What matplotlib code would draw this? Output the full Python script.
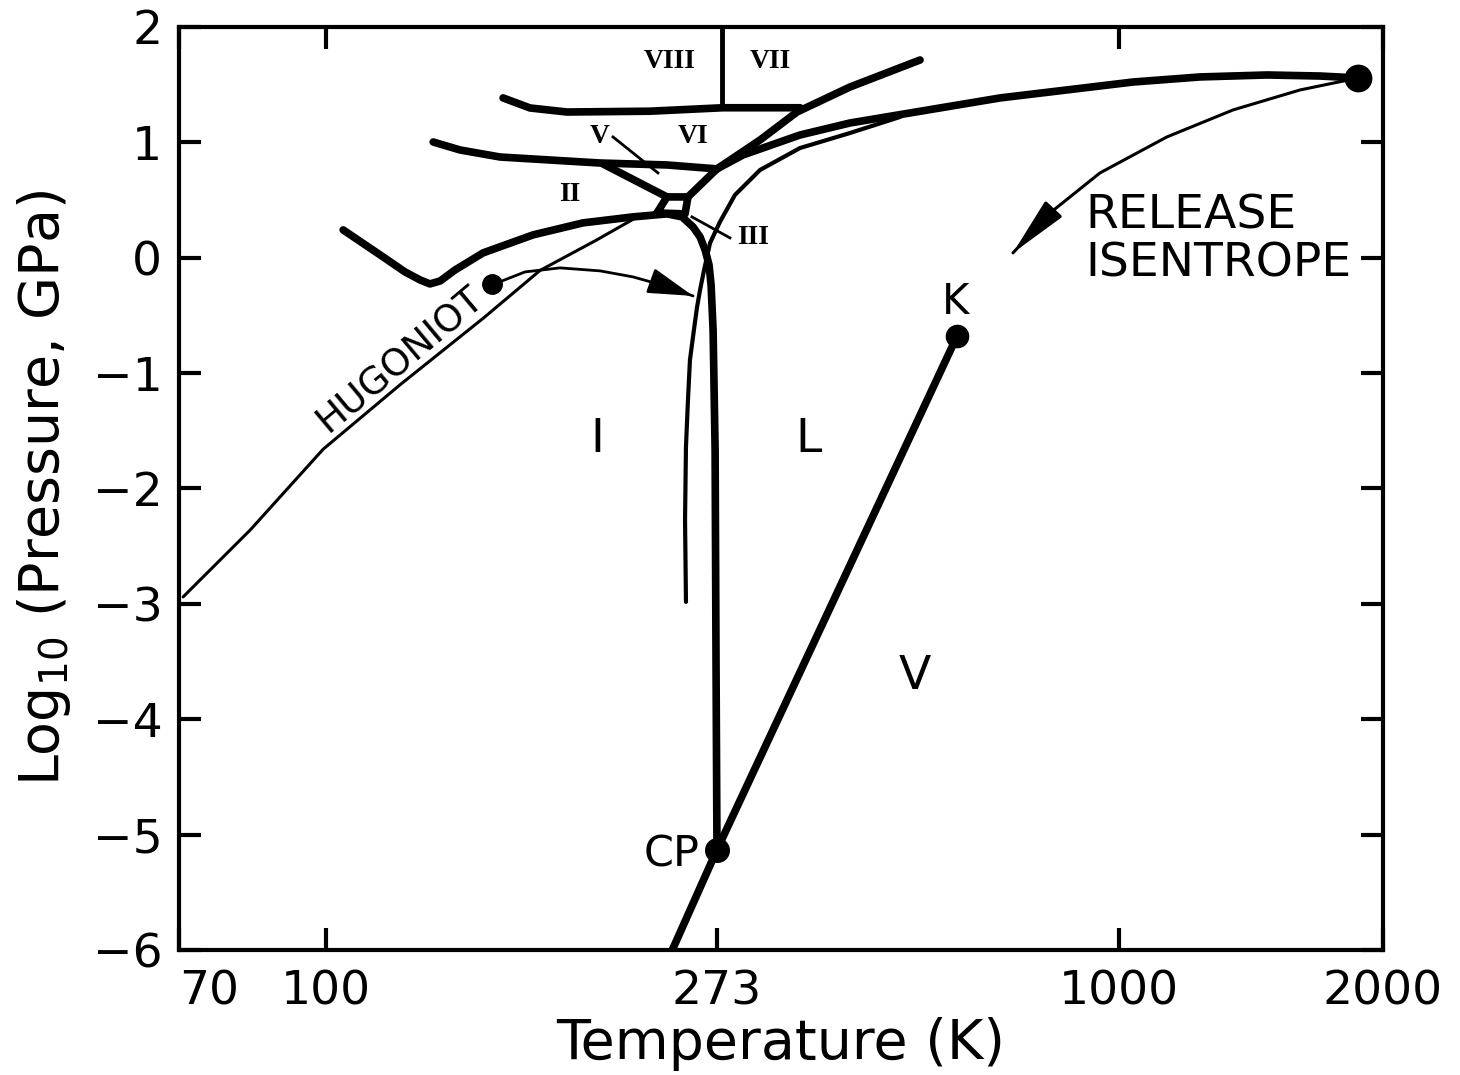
import numpy as np
import matplotlib
matplotlib.use("Agg")
import matplotlib.pyplot as plt
from matplotlib.ticker import FixedLocator, NullLocator

plt.rcParams["font.family"] = ["DejaVu Sans"]
plt.rcParams["mathtext.default"] = "regular"

# ---------------- axes / ticks ----------------
T_TICKS = [70, 100, 273, 1000, 2000]
T_TICK_LABELS = ["70", "100", "273", "1000", "2000"]
# the original temperature axis is a hand-drawn (non-uniform) log axis:
# relative position of each labelled temperature along the axis
T_TICK_POS = [0.0, 0.1221, 0.4468, 0.7807, 1.0]
LOGP_TICKS = [2, 1, 0, -1, -2, -3, -4, -5, -6]

# ---------------- curves (T in K, log10 P in GPa) ----------------
hug_T = [70.7, 83.2, 99.3, 121.0, 150.0, 173.3, 200.0, 222.0]
hug_P = [-2.94, -2.36, -1.66, -1.10, -0.52, -0.11, 0.15, 0.35]
hug_dot = (153.2, -0.227)

hugarrow_T = [155.2, 166.7, 182.4, 202.2, 220.0, 238.9, 256.7]
hugarrow_P = [-0.218, -0.123, -0.088, -0.114, -0.166, -0.244, -0.331]

# VIII / VII lower boundary
l8_T = [157.6, 168.9, 185.7, 229.8, 278.3, 357.0]
l8_P = [1.385, 1.298, 1.263, 1.27, 1.30, 1.30]
# VIII | VII vertical boundary
v8_T = [277.4, 277.4]
v8_P = [2.0, 1.30]

# II-V-VI upper boundary
l6_T = [131.7, 141.1, 156.4, 177.8, 202.2, 240.1, 273.0]
l6_P = [1.003, 0.934, 0.873, 0.847, 0.821, 0.804, 0.770]

# VI/VII boundary up to VII
l7_T = [253.4, 273.0, 313.8, 353.5, 419.5, 526.0]
l7_P = [0.527, 0.770, 1.021, 1.263, 1.48, 1.714]

# melting line to the shock state (big dot)
lm_T = [273.0, 297.0, 357.0, 419.5, 681.0, 1037.5, 1237.4, 1475.0, 1695.0, 1873.0]
lm_P = [0.770, 0.891, 1.064, 1.168, 1.385, 1.523, 1.567, 1.584, 1.575, 1.558]
shock_dot = (1873.0, 1.558)

# V/II boundary
l5_T = [203.7, 240.1]
l5_P = [0.813, 0.527]

# ice III pocket
q3_T = [234.0, 240.1, 253.4, 251.5, 234.0]
q3_P = [0.388, 0.527, 0.527, 0.380, 0.388]

# II / I boundary + ice I melting curve down to CP
lI_T = [104.5, 115.8, 122.5, 127.3, 130.6, 134.1, 139.3, 149.7, 170.2, 193.5, 220.0,
        240.1, 249.6, 256.7, 261.4, 264.8, 267.5, 268.9, 270.3, 271.7, 272.3, 273.0]
lI_P = [0.241, 0.007, -0.123, -0.192, -0.227, -0.201, -0.106, 0.042, 0.198, 0.302, 0.354,
        0.380, 0.354, 0.267, 0.180, 0.068, -0.062, -0.236, -0.626, -1.666, -3.399, -5.132]

# thin curve through ice I region
lt_T = [252.1, 251.5, 252.1, 253.4, 254.7, 257.3, 259.4, 261.4, 264.1, 268.2, 275.6,
        289.3, 313.8, 357.0, 419.5, 493.1]
lt_P = [-2.983, -2.272, -1.640, -1.232, -0.886, -0.626, -0.426, -0.279, -0.106, 0.128,
        0.310, 0.544, 0.761, 0.951, 1.081, 1.220]

# vapour curve CP -> K
vap_T = [243.4, 273.0, 592.9]
vap_P = [-6.0, -5.132, -0.678]
cp_dot = (273.0, -5.132)
k_dot = (592.9, -0.678)

# release isentrope
rel_T = [1873.0, 1608.0, 1349.0, 1134.0, 940.3, 800.3, 710.1]
rel_P = [1.558, 1.454, 1.281, 1.047, 0.735, 0.388, 0.042]

# pointer lines
ptrV_T = [209.0, 234.6]
ptrV_P = [1.047, 0.735]
ptrIII_T = [256.0, 284.7]
ptrIII_P = [0.354, 0.172]

# ---------------- scale ----------------
_LT = np.log10(T_TICKS)


def fwd(t):
    t = np.asarray(t, dtype=float)
    with np.errstate(divide="ignore", invalid="ignore"):
        lt = np.log10(np.where(t > 0, t, 1e-9))
    return np.interp(lt, _LT, T_TICK_POS)


def inv(p):
    p = np.asarray(p, dtype=float)
    return 10 ** np.interp(p, T_TICK_POS, _LT)


fig = plt.figure(figsize=(14.6, 10.75), dpi=100)
ax = fig.add_axes([0.1226, 0.1163, 0.8247, 0.8586])
ax.set_xscale("function", functions=(fwd, inv))
ax.set_xlim(70, 2000)
ax.set_ylim(-6, 2)

THICK = 5.5
THIN = 2.2
k = "black"
rnd = dict(solid_capstyle="round", solid_joinstyle="round")

ax.plot(hug_T, hug_P, color=k, lw=THIN, **rnd)
ax.plot(hugarrow_T, hugarrow_P, color=k, lw=2.0, **rnd)
ax.annotate("", xy=(hugarrow_T[-1], hugarrow_P[-1]), xytext=(hugarrow_T[-2], hugarrow_P[-2]),
            arrowprops=dict(arrowstyle="-|>,head_length=1.4,head_width=0.4", color=k,
                            lw=2.0, shrinkA=0, shrinkB=0, mutation_scale=20))
ax.plot(*hug_dot, "o", color=k, ms=14)

for xs, ys in [(l8_T, l8_P), (l6_T, l6_P), (l7_T, l7_P), (lm_T, lm_P),
               (l5_T, l5_P), (q3_T, q3_P), (lI_T, lI_P), (vap_T, vap_P)]:
    ax.plot(xs, ys, color=k, lw=THICK, **rnd)
ax.plot(v8_T, v8_P, color=k, lw=3.5)

ax.plot(lt_T, lt_P, color=k, lw=3.0, **rnd)
ax.plot(rel_T, rel_P, color=k, lw=THIN, **rnd)
ax.annotate("", xy=(rel_T[-1], rel_P[-1]), xytext=(rel_T[-2], rel_P[-2]),
            arrowprops=dict(arrowstyle="-|>,head_length=1.8,head_width=0.35", color=k,
                            lw=2.4, shrinkA=0, shrinkB=0, mutation_scale=20))
ax.plot(ptrV_T, ptrV_P, color=k, lw=2.0)
ax.plot(ptrIII_T, ptrIII_P, color=k, lw=2.0)

ax.plot(*shock_dot, "o", color=k, ms=19, clip_on=False)
ax.plot(*cp_dot, "o", color=k, ms=17)
ax.plot(*k_dot, "o", color=k, ms=16)

# ---------------- labels ----------------
rom = dict(family=["Liberation Serif", "DejaVu Serif"], weight="bold", fontsize=20,
           ha="center", va="center")
ax.text(242.0, 1.697, "VIII", **rom)
ax.text(323.9, 1.697, "VII", **rom)
ax.text(202.2, 1.047, "V", **rom)
ax.text(256.7, 1.047, "VI", **rom)
ax.text(187.1, 0.544, "II", **rom)
ax.text(306.5, 0.172, "III", **rom)

big = dict(fontsize=34, ha="center", va="center")
ax.text(200.6, -1.579, "I", **big)
ax.text(366.4, -1.579, "L", **big)
ax.text(517.6, -3.633, "V", **big)
ax.text(589.0, -0.383, "K", fontsize=30, ha="center", va="center")
ax.text(261.4, -5.175, "CP", fontsize=31, ha="right", va="center")
ax.text(896.6, 0.362, "RELEASE", fontsize=34, ha="left", va="center")
ax.text(896.6, -0.054, "ISENTROPE", fontsize=34, ha="left", va="center")
ax.text(121.0, -0.886, "HUGONIOT", fontsize=27, ha="center", va="center",
        rotation=40, rotation_mode="anchor")

# ---------------- axes styling ----------------
ax.xaxis.set_major_locator(FixedLocator(T_TICKS))
ax.xaxis.set_minor_locator(NullLocator())
ax.set_xticklabels(T_TICK_LABELS)
ax.set_yticks(LOGP_TICKS)
ax.set_yticklabels([str(v).replace("-", "\u2212") for v in LOGP_TICKS])
ax.yaxis.set_minor_locator(NullLocator())
ax.tick_params(axis="both", direction="in", length=16, width=3, labelsize=34,
               top=True, right=True)
ax.tick_params(axis="x", pad=14)
ax.tick_params(axis="y", pad=12)
xticks = ax.xaxis.get_major_ticks()
xticks[0].label1.set_horizontalalignment("left")
xticks[2].tick2line.set_visible(False)
for s in ax.spines.values():
    s.set_linewidth(3)

ax.set_xlabel("Temperature (K)", fontsize=40, labelpad=2)
ax.set_ylabel("Log$_{10}$ (Pressure, GPa)", fontsize=40, labelpad=14)

fig.savefig("out.png", dpi=100)
